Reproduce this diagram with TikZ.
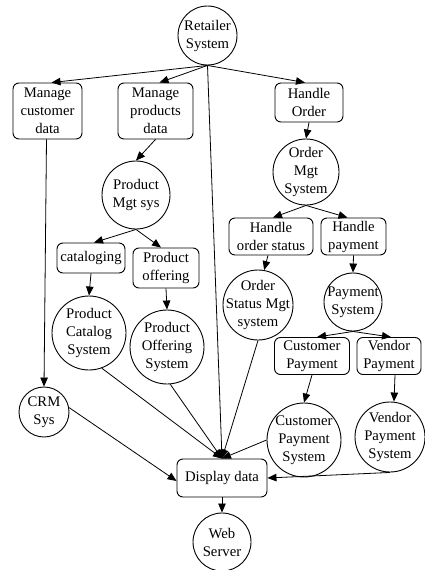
\documentclass[tikz,border=0pt]{standalone}
\usepackage{fontspec}
\setmainfont{Liberation Serif}
\usetikzlibrary{arrows.meta}
\begin{document}
\begin{tikzpicture}[x=1pt,y=-1pt,
  font=\fontsize{14.7}{18}\selectfont,
  txt/.style={align=center,inner sep=0pt},
  proc/.style 2 args={draw,rounded corners=6pt,line width=0.9pt,
    minimum width=#1,minimum height=#2,inner sep=0pt,align=center},
  sys/.style={draw,circle,line width=0.9pt,minimum size=#1,inner sep=0pt},
  flow/.style={line width=0.8pt,-{Triangle[length=9pt,width=7.5pt]}}]
\useasboundingbox[fill=white] (0,0) rectangle (425,570);

% systems (circles) with their captions
\node[sys=59, label={[txt]center:Retailer\\System}] (ret) at (207.5,35.5) {};
\node[sys=66, label={[txt]center:Order\\Mgt\\System}] (oms) at (306,172) {};
\node[sys=68, label={[txt]center:Product\\Mgt sys}] (pms) at (136,195) {};
\node[sys=70, label={[txt]center:Order\\Status Mgt\\system}] (osm) at (258,305) {};
\node[sys=58, label={[txt]center:Payment\\System}] (ps) at (353,302) {};
\node[sys=74, label={[txt]center:Product\\Catalog\\System}] (pcs) at (89,333) {};
\node[sys=74, label={[txt]center:Product\\Offering\\System}] (pos) at (167,347) {};
\node[sys=50, label={[txt]center:CRM\\Sys}] (crm) at (44,412) {};
\node[sys=74, label={[txt]center:Customer\\Payment\\System}] (cps) at (304,440) {};
\node[sys=70, label={[txt]center:Vendor\\Payment\\System}] (vps) at (390,437) {};
\node[sys=58, label={[txt]center:Web\\Server}] (ws) at (222,542) {};

% processes (rounded boxes)
\node[proc={69pt}{56pt}] (mcd) at (47.5,111) {Manage\\customer\\data};
\node[proc={75pt}{56pt}] (mpd) at (155.5,111) {Manage\\products\\data};
\node[proc={68pt}{39pt}] (ho) at (309,102.5) {Handle\\Order};
\node[proc={68pt}{30pt}] (cat) at (91,258) {cataloging};
\node[proc={66pt}{40pt}] (po) at (166,268) {Product\\offering};
\node[proc={84pt}{37pt}] (hos) at (271,236.5) {Handle\\order status};
\node[proc={65pt}{37pt}] (hp) at (353.5,236.5) {Handle\\payment};
\node[proc={75pt}{37pt}] (cp) at (312,356) {Customer\\Payment};
\node[proc={64pt}{37pt}] (vp) at (389,356) {Vendor\\Payment};
\node[proc={90pt}{38pt}] (dd) at (222,478) {Display data};

% connectors
\draw[flow] (ret.south) -- ([xshift=4pt]mcd.north);
\draw[flow] (ret.south) -- ([xshift=4pt]mpd.north);
\draw[flow] (ret.south) -- ([xshift=-4pt]ho.north);
\draw[flow] (ret.south) -- (dd.north);
\draw[flow] ([xshift=-1pt]mcd.south) -- (crm.north);
\draw[flow] (mpd.south) -- (pms.north);
\draw[flow] (pms.south) -- ([xshift=3pt]cat.north);
\draw[flow] (pms.south) -- ([xshift=-5pt]po.north);
\draw[flow] (cat.south) -- (pcs.north);
\draw[flow] (po.south) -- (pos.north);
\draw[flow] (ho.south) -- (oms.north);
\draw[flow] (oms.south) -- ([xshift=2pt]hos.north);
\draw[flow] (oms.south) -- ([xshift=-6pt]hp.north);
\draw[flow] ([xshift=-3pt]hos.south) -- (osm.80);
\draw[flow] (hp.south) -- (ps.north);
\draw[flow] (ps.south) -- ([xshift=5pt]cp.north);
\draw[flow] (ps.south) -- ([xshift=2pt]vp.north);
\draw[flow] (cp.south) -- (cps.north);
\draw[flow] ([xshift=6pt]vp.south) -- ([xshift=4pt]vps.north);
\draw[flow] (pcs.-70) -- (dd.north);
\draw[flow] (pos.-85) -- (dd.north);
\draw[flow] (osm.south) -- (dd.north);
\draw[flow] (cps.180) -- (dd.north);
\draw[flow] (crm.10) -- ([yshift=-3pt]dd.west);
\draw[flow] (vps.south) -- (dd.east);
\draw[flow] (dd.south) -- (ws.north);
\end{tikzpicture}
\end{document}
